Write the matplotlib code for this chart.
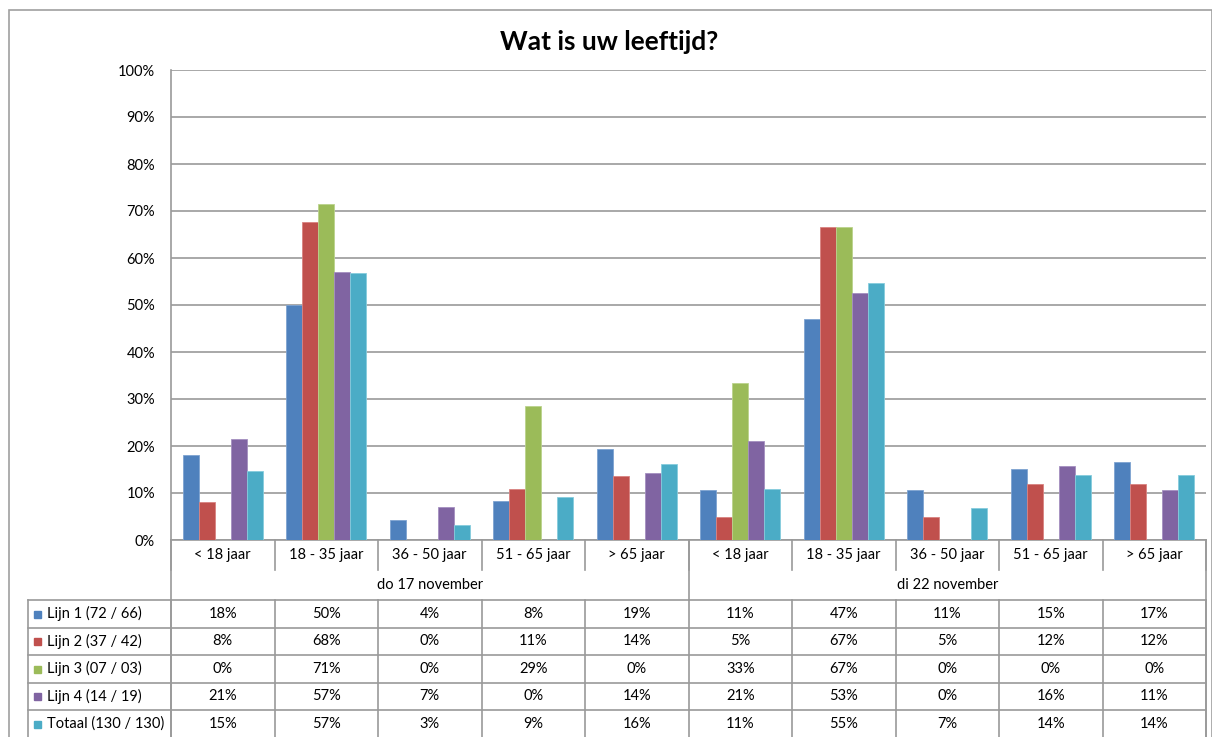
import matplotlib
matplotlib.use("Agg")
import matplotlib.pyplot as plt
import numpy as np
from matplotlib.patches import Rectangle
from matplotlib.lines import Line2D
from matplotlib.transforms import blended_transform_factory

# ── data (percentages) ───────────────────────────────────────────────────────
CATEGORIES = ["< 18 jaar", "18 - 35 jaar", "36 - 50 jaar", "51 - 65 jaar", "> 65 jaar"] * 2
DATES = ["do 17 november", "di 22 november"]
SERIES = ["Lijn 1 (72 / 66)", "Lijn 2 (37 / 42)", "Lijn 3 (07 / 03)",
          "Lijn 4 (14 / 19)", "Totaal (130 / 130)"]

lijn1 = [18.1, 50.0, 4.2, 8.3, 19.4, 10.6, 47.0, 10.6, 15.2, 16.7]
lijn2 = [8.1, 67.6, 0.0, 10.8, 13.6, 4.8, 66.7, 4.8, 11.9, 11.9]
lijn3 = [0.0, 71.4, 0.0, 28.6, 0.0, 33.3, 66.7, 0.0, 0.0, 0.0]
lijn4 = [21.4, 57.1, 7.1, 0.0, 14.3, 21.1, 52.6, 0.0, 15.8, 10.6]
totaal = [14.6, 56.9, 3.1, 9.2, 16.2, 10.8, 54.6, 6.9, 13.8, 13.8]

COLORS = ["#4F81BD", "#C0504D", "#9BBB59", "#8064A2", "#4BACC6"]
EDGES = ["#7EA3D1", "#D98381", "#BBD38D", "#A48FC0", "#86CCDD"]
# ─────────────────────────────────────────────────────────────────────────────

plt.rcParams["font.family"] = ["Lato", "DejaVu Sans"]
W, H = 1212, 737
GRID = "#9a9a9a"
FS = 10.5


def fx(x):
    return x / W


def fy(y):
    return 1 - y / H


def main():
    data = [lijn1, lijn2, lijn3, lijn4, totaal]
    fig = plt.figure(figsize=(W / 100, H / 100), dpi=100)
    fig.patch.set_facecolor("white")

    # chart border
    fig.add_artist(Rectangle((fx(9), fy(740)), fx(1203), fy(10) - fy(740),
                             transform=fig.transFigure, fill=False,
                             edgecolor="#a0a0a0", lw=1.2))

    ax = fig.add_axes([fx(171), fy(540), fx(1206 - 171), fy(70) - fy(540)])
    x = np.arange(len(CATEGORIES))
    bw = 0.155
    for i, (vals, c, ec) in enumerate(zip(data, COLORS, EDGES)):
        ax.bar(x + (i - 2) * bw, vals, width=bw, color=c, edgecolor=ec,
               linewidth=0.6, zorder=3)

    ax.set_xlim(-0.5, len(CATEGORIES) - 0.5)
    ax.set_ylim(0, 100)
    ax.set_yticks(range(0, 101, 10))
    ax.set_yticklabels([f"{v}%" for v in range(0, 101, 10)], fontsize=FS)
    ax.tick_params(axis="y", length=0, pad=11.5)
    ax.set_xticks([])
    ax.grid(axis="y", color=GRID, lw=1.2, zorder=0)
    for s in ["top", "right"]:
        ax.spines[s].set_visible(False)
    for s in ["left", "bottom"]:
        ax.spines[s].set_color(GRID)
        ax.spines[s].set_linewidth(1.2)

    # ── data table below the axis ──────────────────────────────────────────
    tr = blended_transform_factory(ax.transData, fig.transFigure)

    def vline(xd, y0, y1):
        fig.add_artist(Line2D([xd, xd], [fy(y0), fy(y1)], transform=tr,
                              color=GRID, lw=1.2))

    def hline(x0, x1, y):
        fig.add_artist(Line2D([fx(x0), fx(x1)], [fy(y), fy(y)],
                              transform=fig.transFigure, color=GRID, lw=1.2))

    n = len(CATEGORIES)
    # category row + date row
    for k in range(n + 1):
        vline(k - 0.5, 540, 570)
    vline(-0.5, 540, 737)
    vline(n - 0.5, 540, 737)
    vline(4.5, 540, 600)
    for k, cat in enumerate(CATEGORIES):
        ax.text(k, fy(555), cat, transform=tr, ha="center", va="center",
                fontsize=FS)
    for g, d in enumerate(DATES):
        ax.text(g * 5 + 2, fy(585), d, transform=tr, ha="center",
                va="center", fontsize=FS)

    # value rows
    rows = [600, 627.5, 655, 682.5, 710, 737.5]
    for y in rows:
        hline(28, 1206, y)
    fig.add_artist(Line2D([fx(28), fx(28)], [fy(600), fy(737)],
                          transform=fig.transFigure, color=GRID, lw=1.2))
    for k in range(n + 1):
        vline(k - 0.5, 600, 737)
    for r, (name, vals, c) in enumerate(zip(SERIES, data, COLORS)):
        yc = (rows[r] + rows[r + 1]) / 2
        fig.add_artist(Rectangle((fx(34), fy(yc + 4)), fx(7), fy(yc - 3) - fy(yc + 4),
                                 transform=fig.transFigure, color=c))
        fig.text(fx(47), fy(yc), name, ha="left", va="center", fontsize=FS)
        for k, v in enumerate(vals):
            ax.text(k, fy(yc), f"{v:.0f}%", transform=tr, ha="center",
                    va="center", fontsize=FS)

    fig.text(fx(609), fy(42), "Wat is uw leeftijd?", ha="center", va="center",
             fontsize=19, fontweight="bold")

    fig.savefig("out.png", dpi=100)


if __name__ == "__main__":
    main()
